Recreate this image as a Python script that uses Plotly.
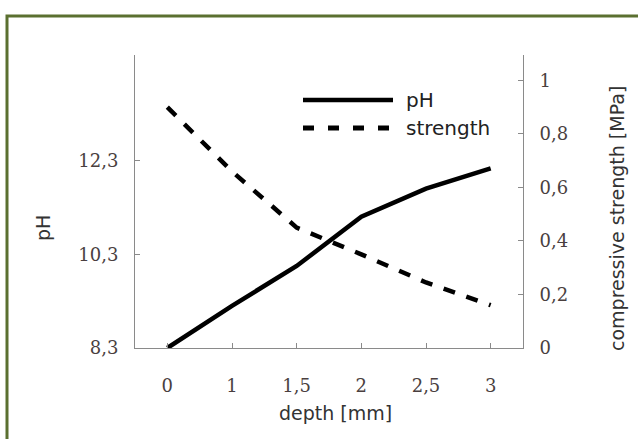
import plotly.graph_objects as go

depth_labels = ["0", "1", "1,5", "2", "2,5", "3"]
ph_values = [8.3, 9.2, 10.05, 11.1, 11.7, 12.13]
strength_values = [0.90, 0.66, 0.45, 0.35, 0.245, 0.16]
ph_ticks = [8.3, 10.3, 12.3]
strength_ticks = [0, 0.2, 0.4, 0.6, 0.8, 1]

L, R, T, B = 135, 115, 55, 91
W, H = 638, 439
pw, ph = W - L - R, H - T - B

def px(x):
    return (x - L) / pw

def py(y):
    return (H - B - y) / ph

tick_font = dict(family="DejaVu Serif", size=18, color="#4a3f3f")
sans = "DejaVu Sans"

fig = go.Figure()
fig.add_trace(go.Scatter(x=depth_labels, y=ph_values, mode="lines", name="pH",
                         line=dict(color="black", width=4.5), yaxis="y"))
fig.add_trace(go.Scatter(x=depth_labels, y=strength_values, mode="lines", name="strength",
                         line=dict(color="black", width=4.5, dash="12px,12px"), yaxis="y2"))

axis_common = dict(showgrid=False, zeroline=False, showline=True, linecolor="#8a8a8a",
                   linewidth=1, ticks="inside", ticklen=5, tickcolor="#8a8a8a", tickfont=tick_font)

fig.update_layout(
    width=W, height=H,
    margin=dict(l=L, r=R, t=T, b=B),
    paper_bgcolor="white", plot_bgcolor="white",
    separators=",.",
    showlegend=False,
    xaxis=dict(type="category", range=[-0.5, 5.5], ticklabelstandoff=21, **axis_common),
    yaxis=dict(range=[8.3, 14.55], tickvals=ph_ticks, ticklabelstandoff=12, **axis_common),
    yaxis2=dict(range=[0, 1.095], tickvals=strength_ticks, overlaying="y", side="right",
                ticklabelstandoff=12, **axis_common),
)

# manual legend
fig.add_shape(type="line", xref="paper", yref="paper", x0=px(303), x1=px(393), y0=py(100), y1=py(100),
              line=dict(color="black", width=4.5))
fig.add_shape(type="line", xref="paper", yref="paper", x0=px(303), x1=px(393), y0=py(128), y1=py(128),
              line=dict(color="black", width=5, dash="11px,14px"))
fig.add_annotation(x=px(404), y=py(100), xref="paper", yref="paper", text="pH", showarrow=False,
                   xanchor="left", yanchor="middle", font=dict(family=sans, size=20, color="#222"))
fig.add_annotation(x=px(404), y=py(128), xref="paper", yref="paper", text="strength", showarrow=False,
                   xanchor="left", yanchor="middle", font=dict(family=sans, size=20, color="#222"))

# axis titles
fig.add_annotation(x=px(43), y=py(228), xref="paper", yref="paper", text="pH", showarrow=False,
                   textangle=-90, xanchor="center", yanchor="middle",
                   font=dict(family=sans, size=19, color="#333"))
fig.add_annotation(x=px(617), y=py(219), xref="paper", yref="paper", text="compressive strength [MPa]",
                   showarrow=False, textangle=-90, xanchor="center", yanchor="middle",
                   font=dict(family=sans, size=19, color="#333"))
fig.add_annotation(x=px(335), y=py(413), xref="paper", yref="paper", text="depth [mm]", showarrow=False,
                   xanchor="center", yanchor="middle", font=dict(family=sans, size=19, color="#333"))

# green frame
fig.add_shape(type="rect", xref="paper", yref="paper", x0=px(7), y0=py(450), x1=px(650), y1=py(16),
              line=dict(color="#5b7030", width=3), layer="below")

fig.write_html("out.html", config={"displayModeBar": False},
               post_script="document.body.style.margin='0px';")
